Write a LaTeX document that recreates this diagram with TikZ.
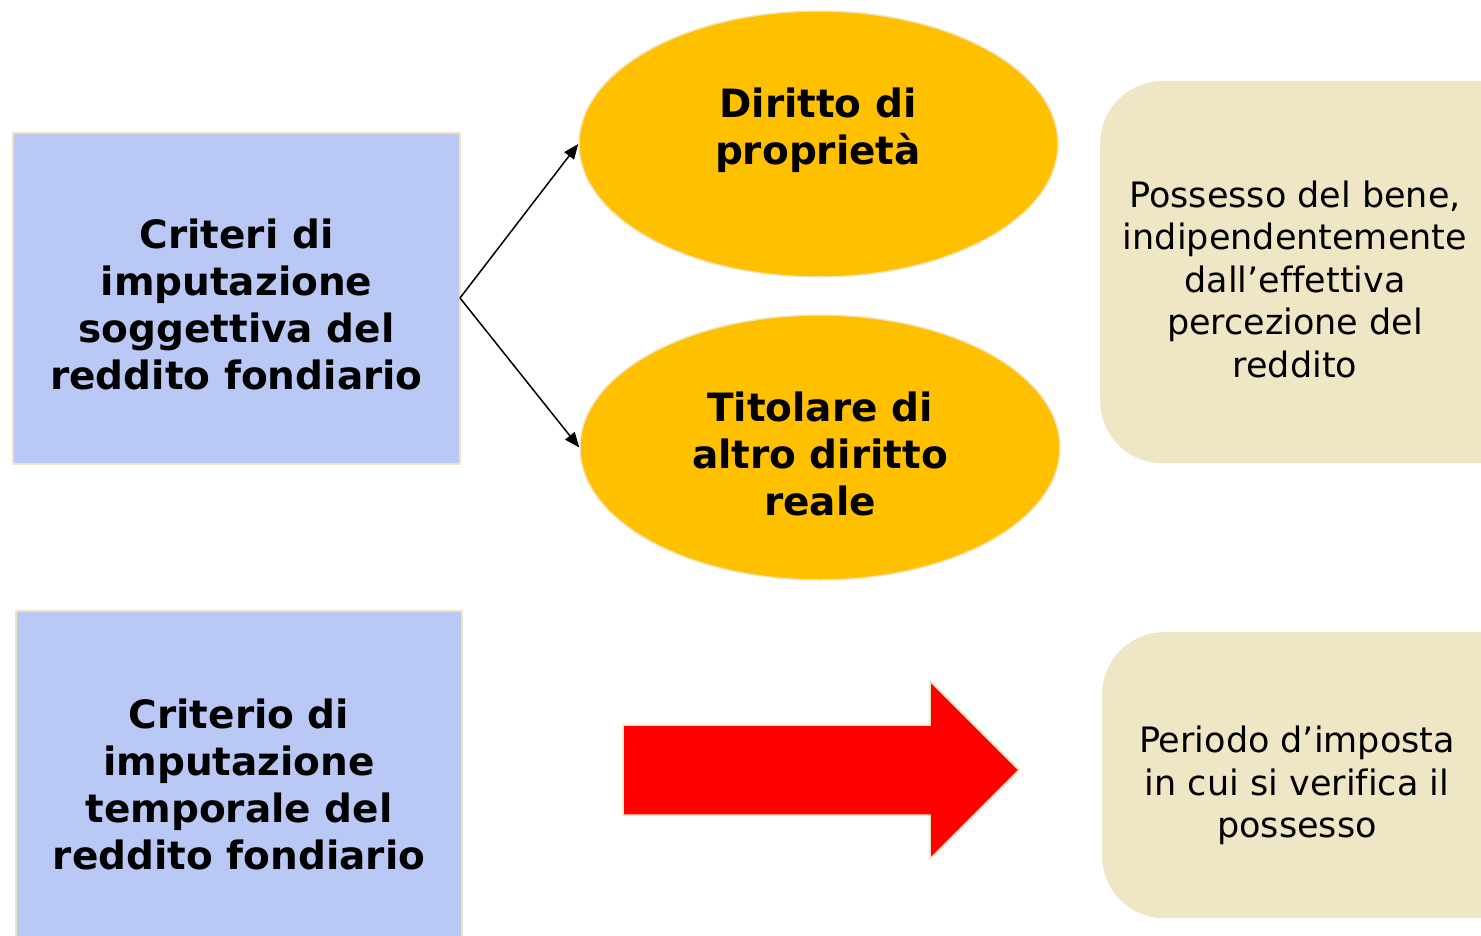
\documentclass[tikz,border=0pt]{standalone}
\usepackage{fontspec}
\setmainfont[Ligatures={NoCommon}]{DejaVu Sans}
\usetikzlibrary{shapes.geometric,arrows.meta}
\definecolor{boxblue}{RGB}{186,200,246}
\definecolor{ellgold}{RGB}{255,192,0}
\definecolor{cream}{RGB}{239,230,197}
\definecolor{edgecream}{RGB}{240,228,190}
\tikzset{
  bluebox/.style={rectangle,fill=boxblue,draw=edgecream,line width=1.5pt,inner sep=0pt},
  goldell/.style={ellipse,fill=ellgold,draw=edgecream,line width=1.5pt,inner sep=0pt},
  creambox/.style={rectangle,rounded corners=62pt,fill=cream,draw=none,inner sep=0pt},
  boldtxt/.style={align=center,font=\fontsize{39}{47}\selectfont\bfseries,inner sep=0pt},
  regtxt/.style={align=center,font=\fontsize{35}{42.5}\selectfont,inner sep=0pt},
  conn/.style={-{Triangle[length=15pt,width=12pt]},line width=1.5pt,black},
  bigarrow/.style={fill=red,draw=edgecream,line width=1.5pt,line join=miter}
}
\begin{document}
\begin{tikzpicture}[x=1pt,y=-1pt]
\useasboundingbox (0,0) rectangle (1481,936);
% left boxes
\node[bluebox,minimum width=447pt,minimum height=331pt] (b1) at (236.5,298.5) {};
\node[boldtxt] (t1) at (236.5,304) {Criteri di\\imputazione\\soggettiva del\\reddito fondiario};
\node[bluebox,minimum width=446pt,minimum height=335pt] (b2) at (239,778.5) {};
\node[boldtxt] (t2) at (239,784) {Criterio di\\imputazione\\temporale del\\reddito fondiario};
% ellipses
\node[goldell,minimum width=479pt,minimum height=266pt] (e1) at (818.5,144) {};
\node[boldtxt] (t3) at (818,130) {Diritto di\\proprietà};
\node[goldell,minimum width=480pt,minimum height=265pt] (e2) at (820,447.5) {};
\node[boldtxt] (t4) at (820,454) {Titolare di\\altro diritto\\reale};
% connectors
\coordinate (split) at (460,298);
\draw[conn] (split) -- (e1.west);
\draw[conn] (split) -- (e2.west);
% right rounded boxes
\node[creambox,minimum width=440pt,minimum height=382pt,anchor=north west] (r1) at (1100,81) {};
\node[regtxt] (t5) at (1295,279) {Possesso del bene,\\indipendentemente\\dall’effettiva\\percezione del\\reddito};
\node[creambox,minimum width=440pt,minimum height=286pt,anchor=north west] (r2) at (1102,632) {};
\node[regtxt] (t6) at (1297,785.5) {Periodo d’imposta\\in cui si verifica il\\possesso};
% big arrow
\filldraw[bigarrow] (623,725) -- (930,725) -- (930,681) -- (1019,770) -- (930,859) -- (930,815) -- (623,815) -- cycle;
\end{tikzpicture}
\end{document}
